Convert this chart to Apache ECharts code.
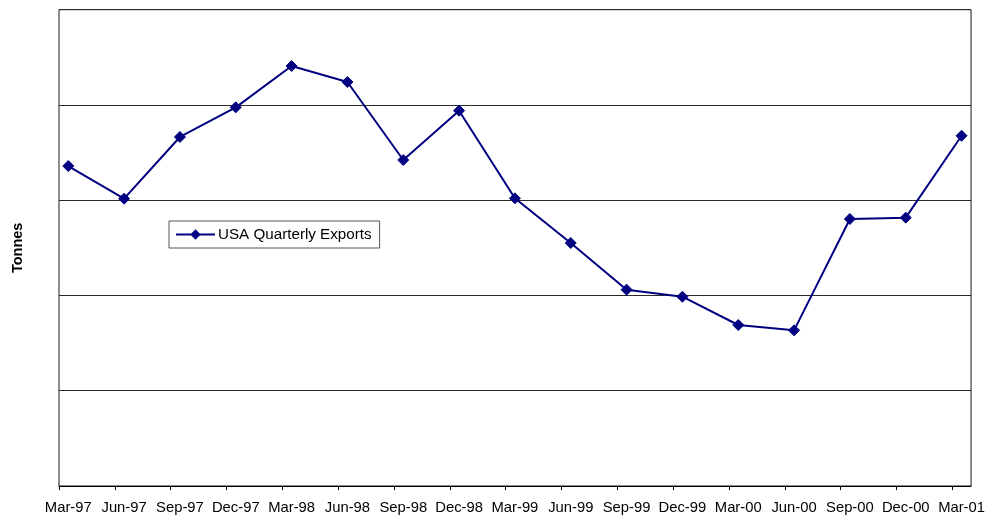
<!DOCTYPE html>
<html>
<head>
<meta charset="utf-8">
<script src="https://cdn.jsdelivr.net/npm/echarts@6/dist/echarts.min.js"></script>
<style>
  html, body { margin: 0; padding: 0; background: #fff; }
  #chart { width: 988px; height: 519px; }
</style>
</head>
<body>
<div id="chart"></div>
<script>
// Quarter labels along the horizontal axis
const quarters = ['Mar-97', 'Jun-97', 'Sep-97', 'Dec-97', 'Mar-98', 'Jun-98', 'Sep-98', 'Dec-98',
  'Mar-99', 'Jun-99', 'Sep-99', 'Dec-99', 'Mar-00', 'Jun-00', 'Sep-00', 'Dec-00', 'Mar-01'];

// Quarterly export volumes (tonnes)
const usaExports = [3359, 3016, 3664, 3975, 4409, 4241, 3422, 3940,
  3020, 2551, 2061, 1987, 1690, 1634, 2803, 2817, 3677];

const seriesName = 'USA Quarterly Exports';
const yAxisName = 'Tonnes';

// Points sit slightly right of each tick mark, so the x axis is a numeric
// index axis whose ticks are offset from the labelled positions.
const tickOffset = -0.166;
const labelPositions = quarters.map((q, i) => i);
const tickPositions = quarters.map((q, i) => i + tickOffset);

const chart = echarts.init(document.getElementById('chart'), null, { renderer: 'canvas' });

chart.setOption({
  animation: false,
  backgroundColor: '#ffffff',
  textStyle: { fontFamily: 'Liberation Sans, Arial, sans-serif' },
  grid: {
    left: 59, top: 9.7, right: 15.5, bottom: 33,
    show: true, borderColor: '#1a1a1a', borderWidth: 1, backgroundColor: 'transparent'
  },
  legend: {
    show: true,
    left: 169, top: 221,
    orient: 'horizontal',
    padding: [6, 8, 6, 6],
    borderColor: '#555555', borderWidth: 1, borderRadius: 0,
    backgroundColor: '#ffffff',
    itemWidth: 39, itemHeight: 13, itemGap: 0,
    textStyle: { fontSize: 15.2, color: '#000', fontFamily: 'Liberation Sans, Arial, sans-serif', padding: [0, 0, 0, -2] },
    data: [seriesName]
  },
  xAxis: {
    type: 'value',
    min: tickOffset,
    max: 16.17,
    splitLine: { show: false },
    axisLine: { show: true, onZero: false, lineStyle: { color: '#000', width: 1 } },
    axisTick: { show: true, inside: false, length: 4, customValues: tickPositions, lineStyle: { color: '#000' } },
    axisLabel: {
      show: true,
      customValues: labelPositions,
      margin: 14,
      fontSize: 14.8,
      color: '#000',
      fontFamily: 'Liberation Sans, Arial, sans-serif',
      formatter: v => quarters[Math.round(v)]
    }
  },
  yAxis: {
    type: 'value',
    min: 0, max: 5000, interval: 1000,
    name: yAxisName,
    nameLocation: 'middle',
    nameGap: 34,
    nameTextStyle: { fontSize: 14.5, fontWeight: 'bold', color: '#000', fontFamily: 'Liberation Sans, Arial, sans-serif' },
    axisLine: { show: false },
    axisTick: { show: false },
    axisLabel: { show: false },
    splitLine: { show: true, lineStyle: { color: '#2a2a2a', width: 1 } }
  },
  series: [{
    name: seriesName,
    type: 'line',
    data: usaExports.map((v, i) => [i, v]),
    symbol: 'diamond',
    symbolSize: 11,
    showAllSymbol: true,
    lineStyle: { color: '#000080', width: 2 },
    itemStyle: { color: '#000080', borderColor: '#000080' }
  }]
});
</script>
</body>
</html>
